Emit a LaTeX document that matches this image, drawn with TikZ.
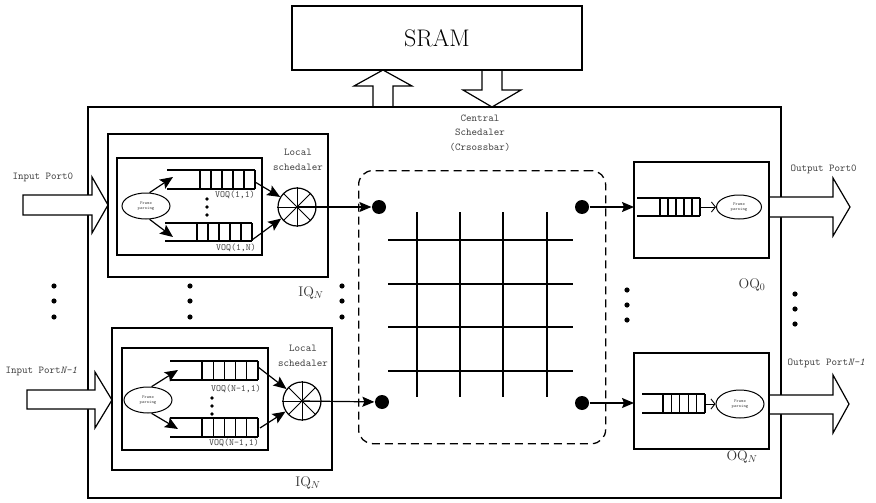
\documentclass[tikz,border=0pt]{standalone}
\usetikzlibrary{arrows.meta,shapes.geometric}

% a FIFO drawn as two rails with a closed, celled right end
% #1 open left x, #2 first cell x, #3 right x, #4 top y, #5 bottom y, #6 number of cells
\newcommand{\queuecells}[6]{%
  \draw (#1,#4) -- (#3,#4) (#1,#5) -- (#3,#5);
  \foreach \k in {0,...,#6}
    \draw ({#2+\k*(#3-#2)/#6},#4) -- ({#2+\k*(#3-#2)/#6},#5);
}

\begin{document}
\begin{tikzpicture}[x=1pt,y=-1pt,line width=1.2pt,
  frame/.style={draw,line width=1.4pt,rectangle,inner sep=0pt,outer sep=0pt,anchor=north west},
  parser/.style={draw,ellipse,line width=1pt,inner sep=0pt,minimum width=48pt,minimum height=26pt,
                 align=center,font=\fontsize{4.5}{5.5}\selectfont\ttfamily,text=black!70},
  wheel/.style={draw,circle,line width=1.2pt,minimum size=38pt,inner sep=0pt},
  port/.style={circle,fill=black,minimum size=14pt,inner sep=0pt},
  blockarrow/.style={draw,fill=white,line width=1.2pt,line join=miter},
  lbl/.style={font=\fontsize{10.5}{14.5}\selectfont\ttfamily,inner sep=0pt,text=black!75},
  voq/.style={font=\fontsize{9.5}{11}\selectfont\ttfamily,inner sep=0pt,text=black!75},
  qname/.style={font=\fontsize{14}{14}\selectfont,inner sep=0pt,text=black!80},
  feed/.style={-{Stealth[length=13pt,width=11pt,inset=2.5pt]}},
  link/.style={-{Stealth[length=12pt,width=10pt,inset=2pt]}},
  pass/.style={-{Straight Barb[length=4pt,width=10pt]},line width=0.9pt},
]
\useasboundingbox (0,0) rectangle (876,503);

% ---------------- switch chip and shared memory ----------------
\node[frame, minimum width=693pt, minimum height=391pt] (chip) at (88,107) {};
\node[frame, minimum width=290pt, minimum height=64pt, font=\fontsize{24}{24}\selectfont] (sram) at (292,6) {SRAM};

% write / read paths to the SRAM
\draw[blockarrow,fill=none] (373,107) -- (373,86) -- (354,86) -- (383,70) -- (412,86) -- (393,86) -- (393,107);
\draw[blockarrow,fill=none] (482,70) -- (482,90) -- (463,90) -- (492,107) -- (521,90) -- (502,90) -- (502,70);

\node[lbl, align=center] (cs) at (480,133) {Central\\Schedaler\\(Crsossbar)};

% ---------------- input ports ----------------
\draw[blockarrow] (23,195) -- (92,195) -- (92,177) -- (108,205) -- (92,233) -- (92,215) -- (23,215) -- cycle;
\draw[blockarrow] (27,390) -- (95,390) -- (95,372) -- (112,400) -- (95,428) -- (95,409) -- (27,409) -- cycle;
\node[lbl, anchor=west] (ip0) at (12,177) {Input Port0};
\node[lbl, anchor=west] (ip1) at (5,371) {Input Port\textit{N-1}};

% ---------------- output ports ----------------
\draw[blockarrow] (769,197) -- (833,197) -- (833,178) -- (850,207) -- (833,236) -- (833,217) -- (769,217);
\draw[blockarrow] (769,395) -- (833,395) -- (833,375) -- (849,404) -- (833,433) -- (833,414) -- (769,414);
\node[lbl, anchor=west] (op0) at (790,169) {Output Port0};
\node[lbl, anchor=west] (op1) at (787,363) {Output Port\textit{N-1}};

% ---------------- input queue block, first port ----------------
\node[frame, minimum width=220pt, minimum height=143pt] (iq0) at (108,134) {};
\node[frame, minimum width=145pt, minimum height=97pt] (vq0) at (117,158) {};
\queuecells{167}{200}{255}{170}{189}{5}
\queuecells{165}{197}{252}{223}{241}{5}
\node[voq] (v00) at (235,195) {VOQ(1,1)};
\node[voq] (v01) at (236,248) {VOQ(1,N)};
\node[parser] (fp0) at (146,206) {Frame\\parsing};
\node[wheel] (ls0) at (297,207) {};
\foreach \a/\b in {0/180,45/225,90/270,135/315} \draw[line width=0.8pt] (ls0.\a) -- (ls0.\b);
\node[lbl, align=center] (lsl0) at (298,160) {Local\\schedaler};
\coordinate (in00) at (173,177);
\coordinate (in01) at (173,237);
\coordinate (out00) at (255,182);
\coordinate (out01) at (252,240);
\draw[feed] (fp0.75) -- (in00);
\draw[feed] (fp0.-75) -- (in01);
\draw[feed] (out00) -- (ls0);
\draw[feed] (out01) -- (ls0);
\foreach \y in {199,207,215} \fill (207,\y) circle (1.8pt);
\node[qname] (iqn0) at (311,293) {IQ$_N$};

% ---------------- input queue block, last port ----------------
\node[frame, minimum width=220pt, minimum height=142pt] (iq1) at (112,328) {};
\node[frame, minimum width=146pt, minimum height=102pt] (vq1) at (122,348) {};
\queuecells{170}{202}{258}{361}{380}{5}
\queuecells{170}{202}{258}{418}{437}{5}
\node[voq] (v10) at (236,389) {VOQ(N-1,1)};
\node[voq] (v11) at (234,443) {VOQ(N-1,1)};
\node[parser] (fp1) at (148,400) {Frame\\parsing};
\node[wheel] (ls1) at (302,401) {};
\foreach \a/\b in {0/180,45/225,90/270,135/315} \draw[line width=0.8pt] (ls1.\a) -- (ls1.\b);
\node[lbl, align=center] (lsl1) at (303,356) {Local\\schedaler};
\coordinate (in10) at (178,370);
\coordinate (in11) at (178,429);
\coordinate (out10) at (258,367);
\coordinate (out11) at (260,428);
\draw[feed] (fp1.75) -- (in10);
\draw[feed] (fp1.-75) -- (in11);
\draw[feed] (out10) -- (ls1);
\draw[feed] (out11) -- (ls1);
\foreach \y in {398,406,414} \fill (212,\y) circle (1.8pt);
\node[qname] (iqn1) at (308,483) {IQ$_N$};

% ---------------- crossbar ----------------
\node[draw, rectangle, anchor=north west, rounded corners=14pt, line width=1.3pt,
      dash pattern=on 8pt off 5pt, minimum width=247pt, minimum height=273pt] (xbar) at (358,170) {};
\foreach \x in {417,460,503,547} \draw (\x,212) -- (\x,397);
\foreach \y in {240,284,327,371} \draw (388,\y) -- (573,\y);

\node[port] (xin0) at (379,207) {};
\node[port] (xin1) at (382,402) {};
\node[port] (xout0) at (582,207) {};
\node[port] (xout1) at (582,403) {};
\draw[link] (ls0.center) -- (xin0);
\draw[link] (ls1.center) -- (xin1);

% ---------------- output queue blocks ----------------
\node[frame, minimum width=135pt, minimum height=96pt] (oq0) at (634,162) {};
\queuecells{637}{660}{700}{198}{216}{5}
\node[parser, minimum width=45pt, minimum height=24pt] (fo0) at (739,207) {Frame\\parsing};
\coordinate (qo0) at (700,207);
\draw[pass] (qo0) -- (fo0);
\node[qname] (oqn0) at (752,285) {OQ$_0$};

\node[frame, minimum width=135pt, minimum height=96pt] (oq1) at (634,353) {};
\queuecells{642}{663}{705}{394}{413}{5}
\node[parser, minimum width=48pt, minimum height=28pt] (fo1) at (740,404) {Frame\\parsing};
\coordinate (qo1) at (705,404);
\draw[pass] (qo1) -- (fo1);
\node[qname] (oqn1) at (742,457) {OQ$_N$};

\draw[link] (xout0) -- (xout0 -| oq0.west);
\draw[link] (xout1) -- (xout1 -| oq1.west);

% ---------------- ellipsis marks between the two rows ----------------
\foreach \x in {54,190,342} \foreach \y in {286,301,317} \fill (\x,\y) circle (2.6pt);
\foreach \y in {290,305,320} \fill (627,\y) circle (2.6pt);
\foreach \y in {294,309,324} \fill (795,\y) circle (2.6pt);

\end{tikzpicture}
\end{document}
